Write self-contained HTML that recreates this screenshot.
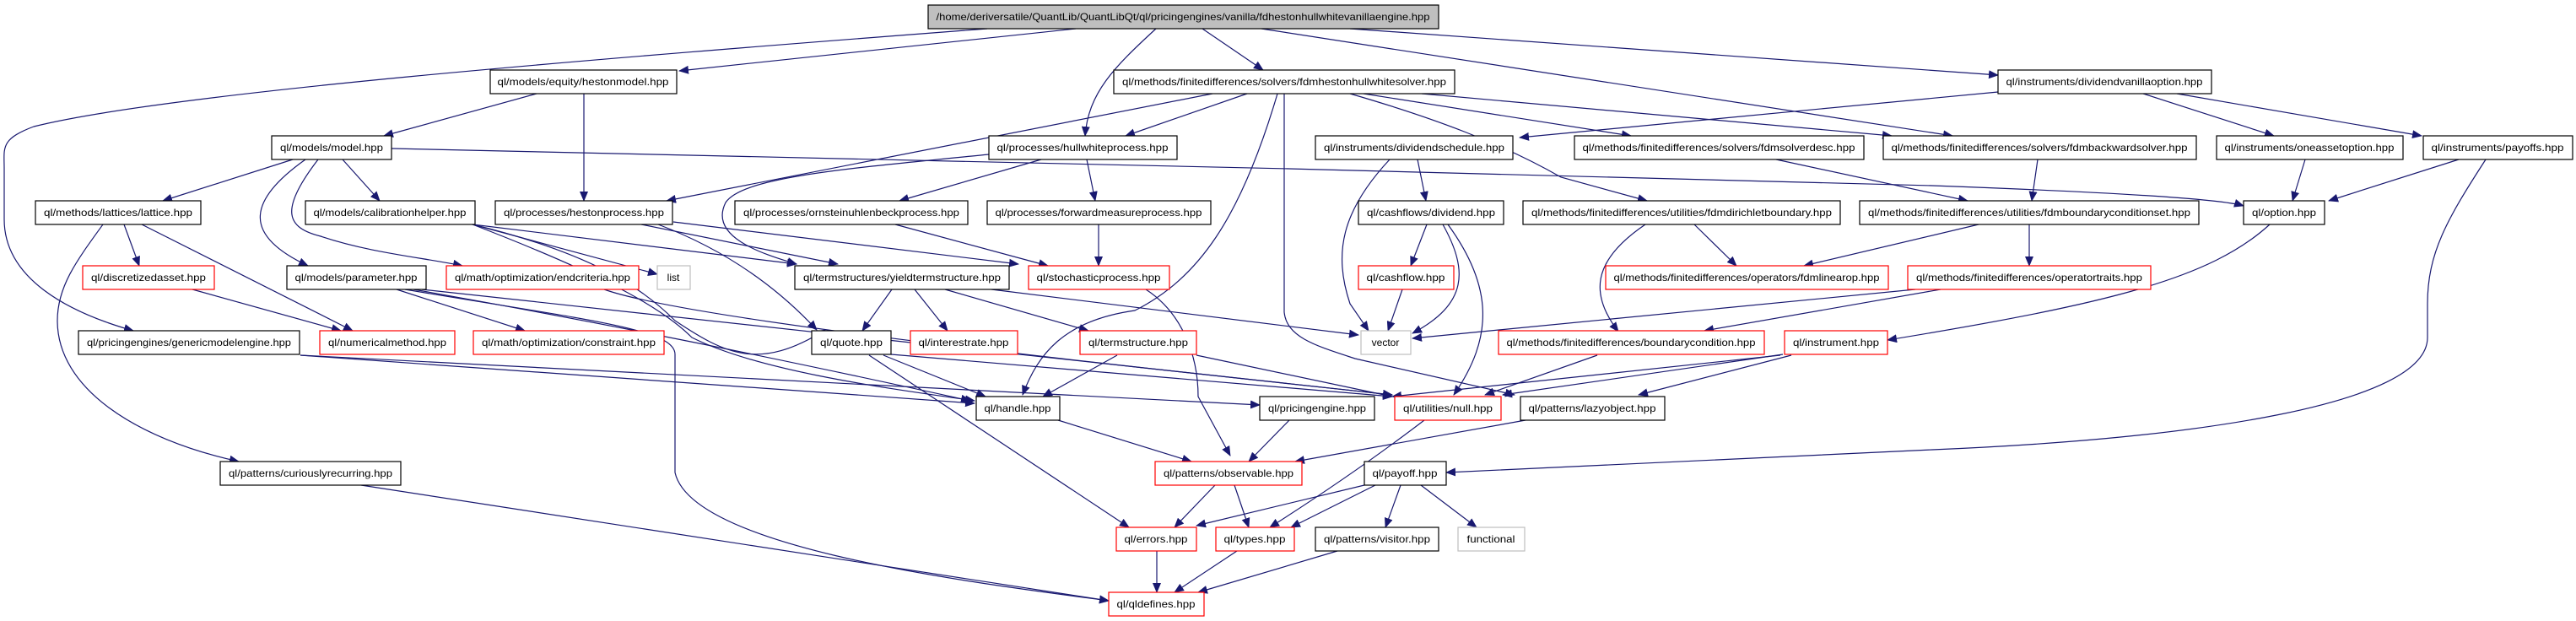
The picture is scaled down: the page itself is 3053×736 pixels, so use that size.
<!DOCTYPE html>
<html><head><meta charset="utf-8"><style>
html,body{margin:0;padding:0;background:#fff}
svg{display:block}
text{font-family:"Liberation Sans",Arial,sans-serif;font-size:12px;fill:#000}
.e{fill:none;stroke:#191970;stroke-width:1.2}
.n{fill:#fff;stroke:#000;stroke-width:1.2}
.r{fill:#fff;stroke:#ff0000;stroke-width:1.2}
.g{fill:#fff;stroke:#bfbfbf;stroke-width:1.2}
.root{fill:#bfbfbf;stroke:#000;stroke-width:1.2}
</style></head><body>
<svg width="3053" height="736" viewBox="0 0 3053 736" xmlns="http://www.w3.org/2000/svg">
<defs><marker id="a" markerUnits="userSpaceOnUse" markerWidth="12" markerHeight="10" refX="11" refY="5" orient="auto"><path d="M0,0 L12,5 L0,10 z" fill="#191970"/></marker></defs>
<g marker-end="url(#a)">
<path class="e" d="M1275,34 L805,84"/>
<path class="e" d="M1170,34 C700,70 200,110 40,150 C0,165 5,175 5,200 L5,260 C5,330 80,370 158,392"/>
<path class="e" d="M1370,34 C1320,80 1290,110 1286,161"/>
<path class="e" d="M1425,34 L1497,83"/>
<path class="e" d="M1495,34 L2314,161"/>
<path class="e" d="M1600,34 L2368,89"/>
<path class="e" d="M636,111 L455,161"/>
<path class="e" d="M692,111 L692,238"/>
<path class="e" d="M347,189 L193,238"/>
<path class="e" d="M362,189 C290,240 290,280 365,315"/>
<path class="e" d="M377,189 C330,250 340,270 380,280 C440,300 500,305 548,315"/>
<path class="e" d="M406,189 L450,238"/>
<path class="e" d="M464,176 L1528,200 L2290,220 Q2620,232 2659,244"/>
<path class="e" d="M1172,183 C1000,200 880,210 860,240 C840,280 900,300 944,313"/>
<path class="e" d="M1234,189 L1066,238"/>
<path class="e" d="M1288,189 L1298,238"/>
<path class="e" d="M1061,266 L1242,315"/>
<path class="e" d="M1302,266 L1302,315"/>
<path class="e" d="M1437,111 L790,238"/>
<path class="e" d="M1478,111 L1334,161"/>
<path class="e" d="M1514,111 C1470,260 1420,330 1345,368 C1260,380 1230,420 1212,468"/>
<path class="e" d="M1522,111 L1522,370 C1525,400 1560,410 1606,425 L1795,468"/>
<path class="e" d="M1616,111 L1933,161"/>
<path class="e" d="M1600,111 C1700,140 1780,170 1850,210 L1952,238"/>
<path class="e" d="M1685,111 L2242,161"/>
<path class="e" d="M2368,109 L1801,163"/>
<path class="e" d="M2540,111 L2695,161"/>
<path class="e" d="M2580,111 L2870,161"/>
<path class="e" d="M2415,189 L2408,238"/>
<path class="e" d="M2105,189 L2332,238"/>
<path class="e" d="M2732,189 L2717,238"/>
<path class="e" d="M2914,189 L2760,238"/>
<path class="e" d="M2946,189 C2900,260 2877,300 2877,360 L2877,400 C2877,480 2600,520 2290,533 L1714,560"/>
<path class="e" d="M1680,189 L1690,238"/>
<path class="e" d="M1647,189 C1590,250 1580,300 1600,360 L1622,392"/>
<path class="e" d="M1710,266 C1740,320 1740,360 1674,395"/>
<path class="e" d="M1716,266 C1770,340 1770,400 1723,468"/>
<path class="e" d="M1691,266 L1672,315"/>
<path class="e" d="M1662,343 L1645,392"/>
<path class="e" d="M2008,266 L2058,315"/>
<path class="e" d="M1950,266 C1885,310 1885,350 1918,393"/>
<path class="e" d="M2345,266 L2138,315"/>
<path class="e" d="M2405,266 L2405,315"/>
<path class="e" d="M2270,343 L1674,401"/>
<path class="e" d="M2300,343 L2020,392"/>
<path class="e" d="M2690,266 C2620,330 2500,360 2237,403"/>
<path class="e" d="M2113,420 L1781,468"/>
<path class="e" d="M2123,421 L1942,468"/>
<path class="e" d="M2110,421 L1650,470"/>
<path class="e" d="M1893,421 L1760,468"/>
<path class="e" d="M1808,498 L1535,547"/>
<path class="e" d="M1688,498 C1620,550 1560,590 1505,625"/>
<path class="e" d="M1617,575 L1418,623"/>
<path class="e" d="M1630,575 L1530,625"/>
<path class="e" d="M1660,575 L1642,625"/>
<path class="e" d="M1684,575 L1750,625"/>
<path class="e" d="M1585,653 L1420,702"/>
<path class="e" d="M1466,653 L1392,702"/>
<path class="e" d="M1371,653 L1371,702"/>
<path class="e" d="M1440,575 L1392,625"/>
<path class="e" d="M1463,575 L1480,625"/>
<path class="e" d="M1254,498 L1412,547"/>
<path class="e" d="M1528,498 L1480,547"/>
<path class="e" d="M1047,421 L1168,470"/>
<path class="e" d="M1030,421 L1338,625"/>
<path class="e" d="M1056,420 L1650,470"/>
<path class="e" d="M1324,421 L1236,470"/>
<path class="e" d="M1418,421 L1650,470"/>
<path class="e" d="M1057,343 L1022,392"/>
<path class="e" d="M1084,343 L1123,392"/>
<path class="e" d="M1120,343 L1290,392"/>
<path class="e" d="M1175,343 L1610,397"/>
<path class="e" d="M1358,343 C1400,370 1420,420 1420,470 L1458,540"/>
<path class="e" d="M560,266 L779,325"/>
<path class="e" d="M560,266 L944,313"/>
<path class="e" d="M560,266 C700,300 760,340 800,380 C860,420 900,440 978,391"/>
<path class="e" d="M560,266 C700,320 780,360 820,400 C900,440 1050,460 1155,475"/>
<path class="e" d="M760,266 L993,313"/>
<path class="e" d="M798,263 L1207,313"/>
<path class="e" d="M780,266 C870,300 930,350 968,391"/>
<path class="e" d="M470,343 L622,392"/>
<path class="e" d="M490,343 C700,380 900,420 1150,475"/>
<path class="e" d="M500,343 L1650,468"/>
<path class="e" d="M480,343 C700,380 800,390 800,420 L800,560 C820,650 1150,690 1314,712"/>
<path class="e" d="M716,343 C820,380 1300,430 1650,468"/>
<path class="e" d="M147,266 L165,315"/>
<path class="e" d="M168,266 L418,392"/>
<path class="e" d="M122,266 C90,310 68,340 68,380 C68,460 160,520 283,547"/>
<path class="e" d="M228,343 L404,392"/>
<path class="e" d="M356,421 L1493,480"/>
<path class="e" d="M356,421 L1155,478"/>
<path class="e" d="M428,575 L1314,712"/>
</g>
<g>
<rect class="root" x="1100" y="6" width="605" height="28"/><text x="1402" y="24" text-anchor="middle" textLength="585" lengthAdjust="spacingAndGlyphs">/home/deriversatile/QuantLib/QuantLibQt/ql/pricingengines/vanilla/fdhestonhullwhitevanillaengine.hpp</text>
<rect class="n" x="581" y="83" width="221" height="28"/><text x="691" y="101" text-anchor="middle" textLength="203" lengthAdjust="spacingAndGlyphs">ql/models/equity/hestonmodel.hpp</text>
<rect class="n" x="1320" y="83" width="404" height="28"/><text x="1522" y="101" text-anchor="middle" textLength="384" lengthAdjust="spacingAndGlyphs">ql/methods/finitedifferences/solvers/fdmhestonhullwhitesolver.hpp</text>
<rect class="n" x="2368" y="83" width="253" height="28"/><text x="2494" y="101" text-anchor="middle" textLength="233" lengthAdjust="spacingAndGlyphs">ql/instruments/dividendvanillaoption.hpp</text>
<rect class="n" x="322" y="161" width="142" height="28"/><text x="393" y="179" text-anchor="middle" textLength="122" lengthAdjust="spacingAndGlyphs">ql/models/model.hpp</text>
<rect class="n" x="1172" y="161" width="223" height="28"/><text x="1283" y="179" text-anchor="middle" textLength="203" lengthAdjust="spacingAndGlyphs">ql/processes/hullwhiteprocess.hpp</text>
<rect class="n" x="1559" y="161" width="234" height="28"/><text x="1676" y="179" text-anchor="middle" textLength="214" lengthAdjust="spacingAndGlyphs">ql/instruments/dividendschedule.hpp</text>
<rect class="n" x="1866" y="161" width="343" height="28"/><text x="2037" y="179" text-anchor="middle" textLength="323" lengthAdjust="spacingAndGlyphs">ql/methods/finitedifferences/solvers/fdmsolverdesc.hpp</text>
<rect class="n" x="2232" y="161" width="371" height="28"/><text x="2417" y="179" text-anchor="middle" textLength="351" lengthAdjust="spacingAndGlyphs">ql/methods/finitedifferences/solvers/fdmbackwardsolver.hpp</text>
<rect class="n" x="2627" y="161" width="221" height="28"/><text x="2737" y="179" text-anchor="middle" textLength="201" lengthAdjust="spacingAndGlyphs">ql/instruments/oneassetoption.hpp</text>
<rect class="n" x="2872" y="161" width="177" height="28"/><text x="2960" y="179" text-anchor="middle" textLength="157" lengthAdjust="spacingAndGlyphs">ql/instruments/payoffs.hpp</text>
<rect class="n" x="42" y="238" width="196" height="28"/><text x="140" y="256" text-anchor="middle" textLength="176" lengthAdjust="spacingAndGlyphs">ql/methods/lattices/lattice.hpp</text>
<rect class="n" x="362" y="238" width="201" height="28"/><text x="462" y="256" text-anchor="middle" textLength="181" lengthAdjust="spacingAndGlyphs">ql/models/calibrationhelper.hpp</text>
<rect class="n" x="587" y="238" width="210" height="28"/><text x="692" y="256" text-anchor="middle" textLength="190" lengthAdjust="spacingAndGlyphs">ql/processes/hestonprocess.hpp</text>
<rect class="n" x="871" y="238" width="276" height="28"/><text x="1009" y="256" text-anchor="middle" textLength="256" lengthAdjust="spacingAndGlyphs">ql/processes/ornsteinuhlenbeckprocess.hpp</text>
<rect class="n" x="1170" y="238" width="265" height="28"/><text x="1302" y="256" text-anchor="middle" textLength="245" lengthAdjust="spacingAndGlyphs">ql/processes/forwardmeasureprocess.hpp</text>
<rect class="n" x="1610" y="238" width="172" height="28"/><text x="1696" y="256" text-anchor="middle" textLength="152" lengthAdjust="spacingAndGlyphs">ql/cashflows/dividend.hpp</text>
<rect class="n" x="1805" y="238" width="376" height="28"/><text x="1993" y="256" text-anchor="middle" textLength="356" lengthAdjust="spacingAndGlyphs">ql/methods/finitedifferences/utilities/fdmdirichletboundary.hpp</text>
<rect class="n" x="2204" y="238" width="402" height="28"/><text x="2405" y="256" text-anchor="middle" textLength="382" lengthAdjust="spacingAndGlyphs">ql/methods/finitedifferences/utilities/fdmboundaryconditionset.hpp</text>
<rect class="n" x="2659" y="238" width="96" height="28"/><text x="2707" y="256" text-anchor="middle" textLength="76" lengthAdjust="spacingAndGlyphs">ql/option.hpp</text>
<rect class="r" x="98" y="315" width="156" height="28"/><text x="176" y="333" text-anchor="middle" textLength="136" lengthAdjust="spacingAndGlyphs">ql/discretizedasset.hpp</text>
<rect class="n" x="340" y="315" width="165" height="28"/><text x="422" y="333" text-anchor="middle" textLength="145" lengthAdjust="spacingAndGlyphs">ql/models/parameter.hpp</text>
<rect class="r" x="529" y="315" width="228" height="28"/><text x="643" y="333" text-anchor="middle" textLength="208" lengthAdjust="spacingAndGlyphs">ql/math/optimization/endcriteria.hpp</text>
<rect class="g" x="779" y="315" width="39" height="28"/><text x="798" y="333" text-anchor="middle">list</text>
<rect class="n" x="942" y="315" width="254" height="28"/><text x="1069" y="333" text-anchor="middle" textLength="234" lengthAdjust="spacingAndGlyphs">ql/termstructures/yieldtermstructure.hpp</text>
<rect class="r" x="1219" y="315" width="167" height="28"/><text x="1302" y="333" text-anchor="middle" textLength="147" lengthAdjust="spacingAndGlyphs">ql/stochasticprocess.hpp</text>
<rect class="r" x="1610" y="315" width="113" height="28"/><text x="1666" y="333" text-anchor="middle" textLength="93" lengthAdjust="spacingAndGlyphs">ql/cashflow.hpp</text>
<rect class="r" x="1903" y="315" width="335" height="28"/><text x="2070" y="333" text-anchor="middle" textLength="315" lengthAdjust="spacingAndGlyphs">ql/methods/finitedifferences/operators/fdmlinearop.hpp</text>
<rect class="r" x="2261" y="315" width="288" height="28"/><text x="2405" y="333" text-anchor="middle" textLength="268" lengthAdjust="spacingAndGlyphs">ql/methods/finitedifferences/operatortraits.hpp</text>
<rect class="n" x="93" y="392" width="262" height="28"/><text x="224" y="410" text-anchor="middle" textLength="242" lengthAdjust="spacingAndGlyphs">ql/pricingengines/genericmodelengine.hpp</text>
<rect class="r" x="379" y="392" width="160" height="28"/><text x="459" y="410" text-anchor="middle" textLength="140" lengthAdjust="spacingAndGlyphs">ql/numericalmethod.hpp</text>
<rect class="r" x="561" y="392" width="226" height="28"/><text x="674" y="410" text-anchor="middle" textLength="206" lengthAdjust="spacingAndGlyphs">ql/math/optimization/constraint.hpp</text>
<rect class="n" x="962" y="392" width="94" height="28"/><text x="1009" y="410" text-anchor="middle" textLength="74" lengthAdjust="spacingAndGlyphs">ql/quote.hpp</text>
<rect class="r" x="1079" y="392" width="127" height="28"/><text x="1142" y="410" text-anchor="middle" textLength="107" lengthAdjust="spacingAndGlyphs">ql/interestrate.hpp</text>
<rect class="r" x="1280" y="392" width="138" height="28"/><text x="1349" y="410" text-anchor="middle" textLength="118" lengthAdjust="spacingAndGlyphs">ql/termstructure.hpp</text>
<rect class="g" x="1613" y="392" width="59" height="28"/><text x="1642" y="410" text-anchor="middle">vector</text>
<rect class="r" x="1776" y="392" width="315" height="28"/><text x="1933" y="410" text-anchor="middle" textLength="295" lengthAdjust="spacingAndGlyphs">ql/methods/finitedifferences/boundarycondition.hpp</text>
<rect class="r" x="2115" y="392" width="122" height="28"/><text x="2176" y="410" text-anchor="middle" textLength="102" lengthAdjust="spacingAndGlyphs">ql/instrument.hpp</text>
<rect class="n" x="1157" y="470" width="99" height="28"/><text x="1206" y="488" text-anchor="middle" textLength="79" lengthAdjust="spacingAndGlyphs">ql/handle.hpp</text>
<rect class="n" x="1493" y="470" width="136" height="28"/><text x="1561" y="488" text-anchor="middle" textLength="116" lengthAdjust="spacingAndGlyphs">ql/pricingengine.hpp</text>
<rect class="r" x="1653" y="470" width="126" height="28"/><text x="1716" y="488" text-anchor="middle" textLength="106" lengthAdjust="spacingAndGlyphs">ql/utilities/null.hpp</text>
<rect class="n" x="1802" y="470" width="171" height="28"/><text x="1887" y="488" text-anchor="middle" textLength="151" lengthAdjust="spacingAndGlyphs">ql/patterns/lazyobject.hpp</text>
<rect class="n" x="261" y="547" width="214" height="28"/><text x="368" y="565" text-anchor="middle" textLength="194" lengthAdjust="spacingAndGlyphs">ql/patterns/curiouslyrecurring.hpp</text>
<rect class="r" x="1369" y="547" width="174" height="28"/><text x="1456" y="565" text-anchor="middle" textLength="154" lengthAdjust="spacingAndGlyphs">ql/patterns/observable.hpp</text>
<rect class="n" x="1617" y="547" width="97" height="28"/><text x="1665" y="565" text-anchor="middle" textLength="77" lengthAdjust="spacingAndGlyphs">ql/payoff.hpp</text>
<rect class="r" x="1323" y="625" width="95" height="28"/><text x="1370" y="643" text-anchor="middle" textLength="75" lengthAdjust="spacingAndGlyphs">ql/errors.hpp</text>
<rect class="r" x="1441" y="625" width="93" height="28"/><text x="1487" y="643" text-anchor="middle" textLength="73" lengthAdjust="spacingAndGlyphs">ql/types.hpp</text>
<rect class="n" x="1559" y="625" width="146" height="28"/><text x="1632" y="643" text-anchor="middle" textLength="126" lengthAdjust="spacingAndGlyphs">ql/patterns/visitor.hpp</text>
<rect class="g" x="1728" y="625" width="79" height="28"/><text x="1767" y="643" text-anchor="middle" textLength="57" lengthAdjust="spacingAndGlyphs">functional</text>
<rect class="r" x="1314" y="702" width="113" height="28"/><text x="1370" y="720" text-anchor="middle" textLength="93" lengthAdjust="spacingAndGlyphs">ql/qldefines.hpp</text>
</g>
</svg>
</body></html>
